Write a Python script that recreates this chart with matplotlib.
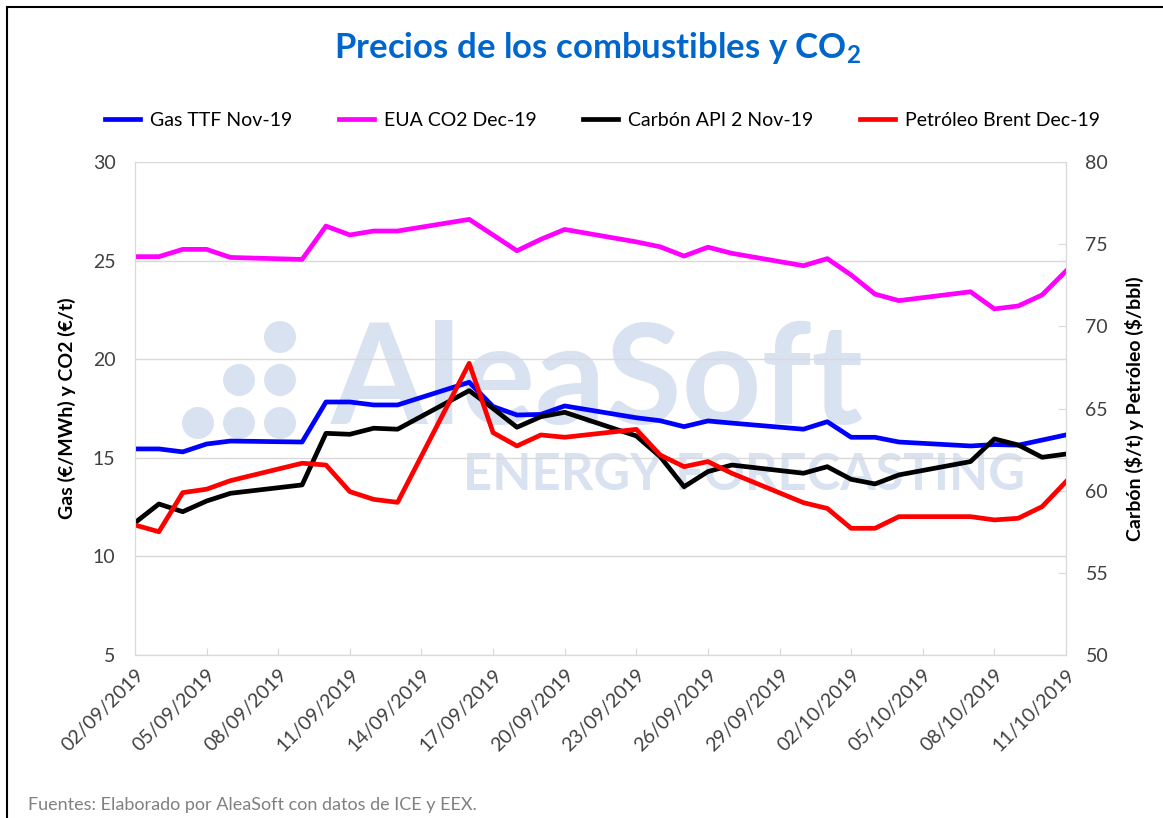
import numpy as np
import pandas as pd
import matplotlib
matplotlib.use('Agg')
import matplotlib.pyplot as plt
import matplotlib.dates as mdates
from matplotlib.patches import Rectangle

# business days 02/09/2019 - 11/10/2019
dates = ['2019-09-02', '2019-09-03', '2019-09-04', '2019-09-05', '2019-09-06',
         '2019-09-09', '2019-09-10', '2019-09-11', '2019-09-12', '2019-09-13',
         '2019-09-16', '2019-09-17', '2019-09-18', '2019-09-19', '2019-09-20',
         '2019-09-23', '2019-09-24', '2019-09-25', '2019-09-26', '2019-09-27',
         '2019-09-30', '2019-10-01', '2019-10-02', '2019-10-03', '2019-10-04',
         '2019-10-07', '2019-10-08', '2019-10-09', '2019-10-10', '2019-10-11']

gas_ttf = [15.45, 15.45, 15.3, 15.7, 15.85, 15.8, 17.83, 17.83, 17.68, 17.68,
           18.83, 17.6, 17.17, 17.2, 17.63, 17.03, 16.88, 16.58, 16.87, 16.76,
           16.45, 16.83, 16.04, 16.04, 15.8, 15.6, 15.67, 15.64, 15.9, 16.16]
eua_co2 = [25.2, 25.2, 25.57, 25.57, 25.16, 25.06, 26.75, 26.3, 26.5, 26.5,
           27.09, 26.3, 25.5, 26.08, 26.58, 25.95, 25.7, 25.23, 25.68, 25.37,
           24.74, 25.1, 24.27, 23.3, 22.97, 23.42, 22.55, 22.7, 23.26, 24.47]
carbon_api2 = [58.05, 59.19, 58.72, 59.37, 59.84, 60.35, 63.49, 63.43, 63.8, 63.74,
               66.09, 65.0, 63.86, 64.5, 64.77, 63.33, 62.07, 60.24, 61.16, 61.56,
               61.06, 61.46, 60.69, 60.41, 60.96, 61.77, 63.15, 62.78, 62.03, 62.23]
brent = [57.91, 57.5, 59.88, 60.09, 60.61, 61.67, 61.56, 59.94, 59.47, 59.29,
         67.75, 63.53, 62.72, 63.39, 63.25, 63.73, 62.17, 61.46, 61.77, 61.06,
         59.27, 58.92, 57.71, 57.71, 58.42, 58.42, 58.22, 58.32, 59.03, 60.55]

x = pd.to_datetime(dates)

FONT = 'Lato'
plt.rcParams['font.family'] = [FONT, 'DejaVu Sans']
plt.rcParams['mathtext.fontset'] = 'custom'
plt.rcParams['mathtext.bf'] = FONT + ':bold'
plt.rcParams['mathtext.rm'] = FONT
plt.rcParams['mathtext.default'] = 'bf'

fig = plt.figure(figsize=(11.63, 8.18), dpi=100)
ax = fig.add_axes([135/1163, 1-655/818, (1066-135)/1163, (655-162)/818])
ax2 = ax.twinx()

# watermark
wm = '#D9E2F1'
ax.text(0.21, 0.55, 'AleaSoft', transform=ax.transAxes, fontsize=100,
        fontweight='bold', color=wm, ha='left', va='center', zorder=0)
ax.text(0.352, 0.365, 'ENERGY FORECASTING', transform=ax.transAxes, fontsize=36.5,
        fontweight='bold', color=wm, ha='left', va='center', zorder=0)
dot_x = [280, 239, 280, 198, 239, 280]
dot_y = [337, 380, 380, 423, 423, 423]
ax.scatter([v/1163 for v in dot_x], [1-v/818 for v in dot_y], s=23**2, color=wm,
           edgecolors='none', transform=fig.transFigure, zorder=0, clip_on=False)

l1, = ax.plot(x, gas_ttf, color='#0000FF', lw=3.4, label='Gas TTF Nov-19', zorder=3)
l2, = ax.plot(x, eua_co2, color='#FF00FF', lw=3.4, label='EUA CO2 Dec-19', zorder=3)
l3, = ax2.plot(x, carbon_api2, color='black', lw=3.4, label='Carbón API 2 Nov-19')
l4, = ax2.plot(x, brent, color='#FF0000', lw=3.4, label='Petróleo Brent Dec-19')

ax.set_ylim(5, 30)
ax.set_yticks(np.arange(5, 31, 5))
ax2.set_ylim(50, 80)
ax2.set_yticks(np.arange(50, 81, 5))
ax.set_xlim(pd.Timestamp('2019-09-02'), pd.Timestamp('2019-10-11'))
ticks = pd.date_range('2019-09-02', '2019-10-11', freq='3D')
ax.set_xticks(ticks)
ax.xaxis.set_major_formatter(mdates.DateFormatter('%d/%m/%Y'))
plt.setp(ax.get_xticklabels(), rotation=45, ha='right', rotation_mode='anchor')

ax.grid(axis='y', color='#D9D9D9', lw=1)
ax.set_axisbelow(True)
for a in (ax, ax2):
    for s in a.spines.values():
        s.set_color('#D9D9D9')
    a.spines['top'].set_visible(False)
ax.tick_params(axis='x', direction='in', length=5, color='#D9D9D9', labelsize=14,
               labelcolor='#404040', pad=8)
ax.tick_params(axis='y', length=0, labelsize=14, labelcolor='#404040', pad=14)
ax2.tick_params(axis='y', direction='in', length=6, color='#D9D9D9', labelsize=14,
                labelcolor='#404040', pad=14)

ax.set_ylabel('Gas (€/MWh) y CO2 (€/t)', fontsize=14, fontweight='bold', labelpad=12)
ax2.set_ylabel(r'Carbón (\$/t) y Petróleo (\$/bbl)', fontsize=14, fontweight='bold',
               labelpad=12)

fig.text(0.514, 1-48/818, r'Precios de los combustibles y CO$_2$', fontsize=25,
         fontweight='bold', color='#0066CC', ha='center', va='center')

fig.legend(handles=[l1, l2, l3, l4], loc='center', bbox_to_anchor=(0.518, 1-120/818),
           ncol=4, frameon=False, fontsize=14, handlelength=1.8, handletextpad=0.5,
           columnspacing=2.4)

fig.text(28/1163, 1-805/818, 'Fuentes: Elaborado por AleaSoft con datos de ICE y EEX.',
         fontsize=13, color='#808080', ha='left', va='center')

# outer frame
fig.patches.append(Rectangle((7/1163, -0.05), 1.2, 1-7/818+0.05, transform=fig.transFigure,
                             fill=False, edgecolor='black', lw=1.5))

fig.savefig('out.png', dpi=100)
